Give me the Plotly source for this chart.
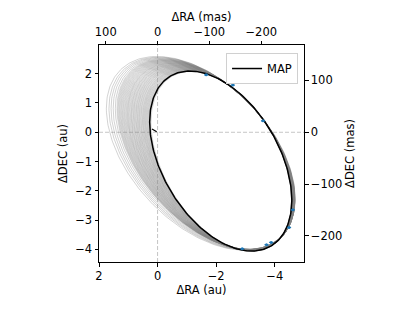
import numpy as np
import plotly.graph_objects as go

# ---- data (au) ----
MAS_PER_AU = 56.5

# points on the MAP orbit
map_ra = [-1.10, 0.26, 0.20, -0.71, -2.02, -3.03, -4.58, -3.60, -2.57, -1.66]
map_dec = [2.07, 0.19, -0.26, -2.41, -3.67, -4.04, -2.65, 0.38, 1.60, 1.97]

# points on the outer edge of the dense band of posterior orbits
dense_ra = [-0.05, 1.36, 1.15, 0.52, -0.33, -1.76, -3.03, -4.60, -3.62, -2.57, -1.66]
dense_dec = [2.45, 0.70, -0.77, -1.40, -2.54, -3.68, -4.06, -2.65, 0.38, 1.62, 1.99]

# points on the widest posterior orbit
outer_ra = [0.03, 1.68, 1.58, 1.50, 0.89, -0.02, -1.62, -3.03, -4.62, -3.64, -2.57, -1.66]
outer_dec = [2.58, 0.70, -0.26, -0.77, -1.40, -2.54, -3.74, -4.08, -2.65, 0.38, 1.64, 2.01]

# posterior draws inside the dense band (fraction MAP -> dense edge)
dense_draws = [-0.04, -0.02, 0.0, 0.02, 0.03, 0.05, 0.06, 0.08, 0.09, 0.11,
               0.12, 0.14, 0.15, 0.17, 0.18, 0.20, 0.21, 0.23, 0.25, 0.26,
               0.28, 0.30, 0.31, 0.33, 0.35, 0.36, 0.38, 0.40, 0.41, 0.43,
               0.45, 0.47, 0.48, 0.50, 0.52, 0.54, 0.55, 0.57, 0.59, 0.61,
               0.63, 0.65, 0.66, 0.68, 0.70, 0.72, 0.74, 0.76, 0.78, 0.80,
               0.82, 0.84, 0.86, 0.88, 0.90, 0.92, 0.94, 0.96, 0.98, 1.0]
# sparse draws beyond the dense band (fraction dense edge -> widest)
sparse_draws = [0.15, 0.35, 0.55, 0.75, 1.0]

# astrometric epochs
obs_ra = [-1.66, -2.57, -3.60, -4.62, -4.49, -3.88, -3.72, -2.89]
obs_dec = [1.96, 1.61, 0.39, -2.65, -3.25, -3.76, -3.84, -3.98]
obs_err = [0.07, 0.07, 0.07, 0.07, 0.07, 0.07, 0.07, 0.07]

# short segment near the star
seg_ra = [0.19, 0.03]
seg_dec = [0.11, 0.02]

ra_range = [2.0, -5.0]
dec_range = [-4.43, 2.98]


def fit_ellipse(xs, ys):
    x = np.asarray(xs, float)
    y = np.asarray(ys, float)
    A = np.column_stack([x * x, x * y, y * y, x, y])
    a, b, c, d, e = np.linalg.lstsq(A, np.ones_like(x), rcond=None)[0]
    Q = np.array([[a, b / 2], [b / 2, c]])
    x0 = -0.5 * np.linalg.solve(Q, [d, e])
    k = 1 + x0 @ Q @ x0
    S = k * np.linalg.inv(Q)
    return x0, S


def curve(center, S, n=260):
    L = np.linalg.cholesky(S)
    t = np.linspace(0, 2 * np.pi, n)
    p = L @ np.vstack([np.cos(t), np.sin(t)])
    return center[0] + p[0], center[1] + p[1]


c_map, S_map = fit_ellipse(map_ra, map_dec)
c_den, S_den = fit_ellipse(dense_ra, dense_dec)
c_out, S_out = fit_ellipse(outer_ra, outer_dec)

fig = go.Figure()


def add_draw(c0, S0, c1, S1, f, color):
    c = (1 - f) * c0 + f * c1
    S = (1 - f) * S0 + f * S1
    x, y = curve(c, S)
    fig.add_trace(go.Scatter(x=x, y=y, mode="lines",
                             line=dict(color=color, width=1),
                             showlegend=False, hoverinfo="skip"))


for f in dense_draws:
    add_draw(c_map, S_map, c_den, S_den, f, "rgba(128,128,128,0.24)")
for f in sparse_draws:
    add_draw(c_den, S_den, c_out, S_out, f, "rgba(128,128,128,0.35)")

mx, my = curve(c_map, S_map)
fig.add_trace(go.Scatter(x=mx, y=my, mode="lines", name="MAP",
                         line=dict(color="black", width=1.5)))
fig.add_trace(go.Scatter(x=seg_ra, y=seg_dec, mode="lines",
                         line=dict(color="black", width=1.2), showlegend=False))
fig.add_trace(go.Scatter(x=obs_ra, y=obs_dec, mode="markers",
                         marker=dict(color="#1f77b4", size=3),
                         error_x=dict(type="data", array=obs_err, color="#1f77b4",
                                      thickness=1.2, width=0),
                         showlegend=False))

# invisible traces that carry the mas axes
fig.add_trace(go.Scatter(x=[r * MAS_PER_AU for r in ra_range], y=[0, 0],
                         xaxis="x2", yaxis="y", mode="lines",
                         line=dict(width=0), showlegend=False, hoverinfo="skip"))
fig.add_trace(go.Scatter(x=[0, 0], y=[d * MAS_PER_AU for d in dec_range],
                         xaxis="x", yaxis="y2", mode="lines",
                         line=dict(width=0), showlegend=False, hoverinfo="skip"))

fig.add_hline(y=0, line=dict(color="rgba(150,150,150,0.55)", width=1, dash="4px,2px"), layer="below")
fig.add_vline(x=0, line=dict(color="rgba(150,150,150,0.55)", width=1, dash="4px,2px"), layer="below")

font = dict(family="DejaVu Sans", size=11.5, color="black")
axis_common = dict(showgrid=False, zeroline=False, showline=True, linecolor="black",
                   linewidth=1, ticks="outside", ticklen=3.5, tickwidth=1,
                   tickcolor="black", tickfont=font, title_font=font,
                   automargin=False)

fig.update_layout(
    width=415, height=311,
    margin=dict(l=91, r=119, t=37, b=57),
    paper_bgcolor="white", plot_bgcolor="white",
    font=font,
    xaxis=dict(range=ra_range, tickvals=[2, 0, -2, -4],
               ticktext=["2", "0", "\u22122", "\u22124"],
               title=dict(text="\u0394RA (au)", standoff=1), **axis_common),
    yaxis=dict(range=dec_range, tickvals=[2, 1, 0, -1, -2, -3, -4],
               ticktext=["2", "1", "0", "\u22121", "\u22122", "\u22123", "\u22124"],
               title=dict(text="\u0394DEC (au)", standoff=5), **axis_common),
    xaxis2=dict(overlaying="x", side="top", anchor="y",
                range=[r * MAS_PER_AU for r in ra_range],
                tickvals=[100, 0, -100, -200],
                ticktext=["100", "0", "\u2212100", "\u2212200"],
                title=dict(text="\u0394RA (mas)", standoff=0), **axis_common),
    yaxis2=dict(overlaying="y", side="right", anchor="x",
                range=[d * MAS_PER_AU for d in dec_range],
                tickvals=[100, 0, -100, -200],
                ticktext=["100", "0", "\u2212100", "\u2212200"],
                title=dict(text="\u0394DEC (mas)", standoff=4), **axis_common),
    legend=dict(x=0.971, y=0.963, xanchor="right", yanchor="top",
                bgcolor="white", bordercolor="#d0d0d0", borderwidth=1,
                font=font),
    showlegend=True,
)

fig.write_html("out.html")
